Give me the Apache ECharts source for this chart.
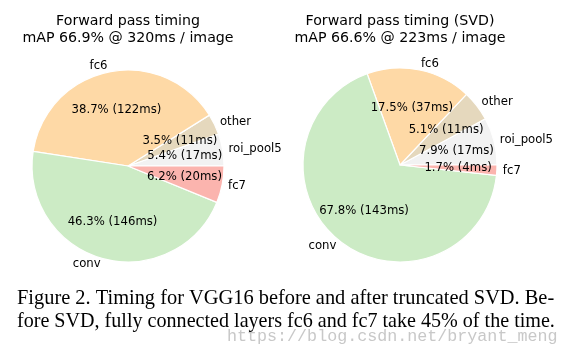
<!DOCTYPE html>
<html>
<head>
<meta charset="utf-8">
<script src="https://cdn.jsdelivr.net/npm/echarts@6/dist/echarts.min.js"></script>
<style>
html,body{margin:0;padding:0;background:#fff;}
#chart{width:568px;height:355px;}
</style>
</head>
<body>
<div id="chart"></div>
<script>
// ---- data ----
const categories = ['roi_pool5', 'other', 'fc6', 'conv', 'fc7'];
const pctBefore = [5.4, 3.5, 38.7, 46.3, 6.2];
const msBefore = [17, 11, 122, 146, 20];
const pctAfter = [7.9, 5.1, 17.5, 67.8, 1.7];
const msAfter = [17, 11, 37, 143, 4];
const titleBefore = ['Forward pass timing', 'mAP 66.9% @ 320ms / image'];
const titleAfter = ['Forward pass timing (SVD)', 'mAP 66.6% @ 223ms / image'];
const captionLines = [
  'Figure 2. Timing for VGG16 before and after truncated SVD. Be-',
  'fore SVD, fully connected layers fc6 and fc7 take 45% of the time.'
];
const watermark = 'https://blog.csdn.net/bryant_meng';
const sliceColors = ['#f2f2f2', '#e5d8bd', '#fed9a6', '#ccebc5', '#fbb4ae'];

// ---- build ----
const FONT = 'DejaVu Sans';
function mainPie(pcts, center, r) {
  return {
    type: 'pie', center: center, radius: [0, r],
    startAngle: 0, clockwise: false, avoidLabelOverlap: false,
    silent: true, animation: false,
    data: categories.map((c, i) => ({ name: c, value: pcts[i], itemStyle: { color: sliceColors[i] } })),
    itemStyle: { borderColor: '#ffffff', borderWidth: 1.2 },
    label: { show: true, position: 'outside', formatter: '{b}', color: '#000', fontFamily: FONT, fontSize: 11.7, distanceToLabelLine: 0 },
    labelLine: { show: false, length: 6, length2: 0 },
    emphasis: { disabled: true }
  };
}
function innerLabels(pcts, ms, center, r) {
  const rr = 2 * (0.6 * r - 3);
  return {
    type: 'pie', center: center, radius: [0, rr],
    startAngle: 0, clockwise: false, avoidLabelOverlap: false,
    silent: true, animation: false, z: 5,
    data: categories.map((c, i) => ({ name: c, value: pcts[i] })),
    itemStyle: { color: 'rgba(0,0,0,0)', borderWidth: 0 },
    label: {
      show: true, position: 'inside', color: '#000', fontFamily: FONT, fontSize: 11.7,
      formatter: p => pcts[p.dataIndex].toFixed(1) + '% (' + ms[p.dataIndex] + 'ms)'
    },
    labelLine: { show: false },
    emphasis: { disabled: true }
  };
}

const chart = echarts.init(document.getElementById('chart'), null, { renderer: 'canvas' });
const titleStyle = { fontFamily: FONT, fontSize: 14.2, fontWeight: 'normal', color: '#000', lineHeight: 16.5 };
chart.setOption({
  backgroundColor: '#ffffff',
  animation: false,
  title: [
    { text: titleBefore.join('\n'), left: 128, top: 13.5, textAlign: 'center', padding: 0, textStyle: titleStyle },
    { text: titleAfter.join('\n'), left: 400, top: 13.5, textAlign: 'center', padding: 0, textStyle: titleStyle }
  ],
  series: [
    mainPie(pctBefore, [128, 166], 96),
    innerLabels(pctBefore, msBefore, [128, 166], 96),
    mainPie(pctAfter, [400, 165], 97),
    innerLabels(pctAfter, msAfter, [400, 165], 97)
  ],
  graphic: [
    { type: 'text', left: 17, top: 288.5, style: { text: captionLines[0], font: '20.4px "Liberation Serif"', fill: '#000' } },
    { type: 'text', left: 17, top: 311.5, style: { text: captionLines[1], font: '20.1px "Liberation Serif"', fill: '#000' } },
    { type: 'text', left: 227, top: 328, z: -1, style: { text: watermark, font: '16.7px "Liberation Mono"', fill: '#c8c8c8' } }
  ]
});
</script>
</body>
</html>
